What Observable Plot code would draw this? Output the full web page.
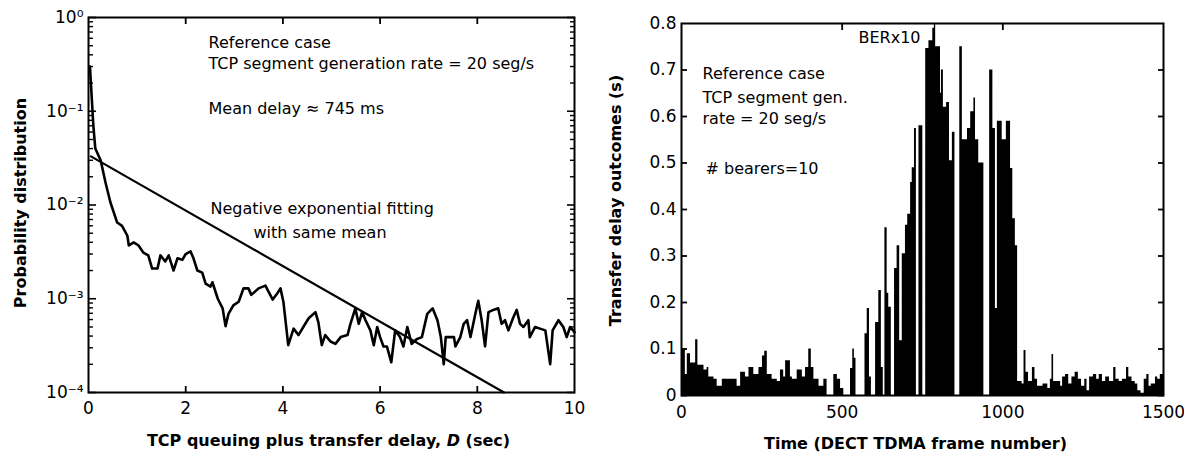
<!DOCTYPE html>
<html><head><meta charset="utf-8">
<script src="https://cdn.jsdelivr.net/npm/d3@7"></script>
<script src="https://cdn.jsdelivr.net/npm/@observablehq/plot@0.6"></script>
<style>
body{margin:0;background:#fff;}
#wrap{display:flex;width:1184px;height:455px;background:#fff;}
#wrap svg{display:block;}
</style></head><body><div id="wrap"></div>
<script>
// ---------- Left panel data: probability distribution of delay D ----------
const delayD = [0.03,0.06,0.10,0.14,0.25,0.35,0.45,0.59,0.69,0.80,0.83,0.93,1.03,1.13,1.23,1.31,1.42,1.48,1.58,1.65,1.75,1.83,1.93,2.00,2.10,2.16,2.24,2.34,2.41,2.51,2.55,2.66,2.76,2.82,2.88,2.98,3.09,3.19,3.29,3.35,3.50,3.64,3.79,3.89,3.95,4.01,4.11,4.22,4.32,4.42,4.53,4.67,4.73,4.80,4.87,4.98,5.08,5.19,5.33,5.39,5.49,5.56,5.63,5.70,5.80,5.87,5.94,6.00,6.07,6.14,6.23,6.31,6.41,6.48,6.56,6.65,6.75,6.86,6.97,7.08,7.18,7.25,7.31,7.35,7.52,7.55,7.65,7.72,7.79,7.86,7.96,8.02,8.09,8.16,8.23,8.33,8.43,8.50,8.57,8.64,8.74,8.81,8.88,8.95,9.05,9.08,9.19,9.29,9.40,9.50,9.55,9.67,9.77,9.84,9.91,10.0];
const probP = [0.30,0.16,0.07,0.040,0.030,0.0174,0.0107,0.0065,0.0060,0.0047,0.0037,0.0040,0.0037,0.0031,0.0029,0.0021,0.0021,0.0029,0.0025,0.0029,0.0020,0.0027,0.0026,0.0030,0.0032,0.0027,0.0020,0.0019,0.00145,0.00135,0.0015,0.0010,0.00079,0.00051,0.00069,0.00085,0.00093,0.00129,0.00129,0.0011,0.00129,0.00138,0.00098,0.00115,0.00129,0.00093,0.00032,0.00048,0.00041,0.0005,0.00062,0.00072,0.00056,0.00032,0.00041,0.00035,0.00033,0.00039,0.00041,0.00054,0.00079,0.00054,0.00072,0.00059,0.00046,0.00032,0.0005,0.00039,0.00031,0.00031,0.00021,0.00046,0.00039,0.00031,0.0005,0.00033,0.00037,0.00039,0.00069,0.00079,0.00059,0.00039,0.0002,0.00039,0.00039,0.00031,0.00039,0.00054,0.00059,0.00039,0.00069,0.00095,0.00059,0.00031,0.00072,0.00076,0.00079,0.00054,0.00059,0.00046,0.00063,0.00076,0.00054,0.0005,0.00059,0.00039,0.0005,0.00048,0.00046,0.0002,0.00046,0.00059,0.0005,0.00039,0.0005,0.00044];
// negative exponential fit (straight on log scale)
const fitD = [0.05, 8.55];
const fitP = [0.033, 0.0001];
const leftXTicks = [0, 2, 4, 6, 8, 10];
const leftXInnerTicks = [2, 4, 6, 8];
const leftYTicks = [1, 0.1, 0.01, 0.001, 0.0001];
const leftYTickLabels = ["10\u2070", "10\u207B\u00B9", "10\u207B\u00B2", "10\u207B\u00B3", "10\u207B\u2074"];
const leftXLabel = "TCP queuing plus transfer delay, D (sec)";
const leftYLabel = "Probability distribution";

// ---------- Right panel data: transfer delay per DECT frame ----------
const frameStart = [0,12,18,28,44,51,70,80,85,101,111,127,173,184,199,210,225,241,252,259,267,282,298,308,318,324,339,345,360,376,386,396,404,412,428,443,453,474,485,495,505,526,533,538,543,571,578,585,591,604,614,622,628,633,640,645,653,663,671,679,687,697,704,713,718,725,731,739,751,760,770,782,787,791,806,809,815,825,834,843,851,866,874,890,900,910,915,925,941,959,969,977,983,998,1011,1024,1031,1039,1046,1060,1066,1072,1080,1092,1100,1108,1125,1140,1148,1153,1158,1180,1186,1195,1205,1215,1225,1235,1245,1255,1262,1270,1282,1292,1300,1310,1320,1332,1345,1352,1362,1372,1385,1392,1402,1412,1420,1430,1440,1448,1455,1462,1475,1482,1490];
const delayValue = [0.10,0.045,0.09,0.07,0.12,0.065,0.055,0.06,0.04,0.035,0.02,0.035,0.02,0.05,0.04,0.06,0.045,0.06,0.085,0.095,0.045,0.035,0.03,0.055,0.04,0.075,0.04,0.035,0.055,0.04,0.06,0.10,0.06,0.035,0.02,0.035,0,0.045,0.035,0.015,0,0.058,0.10,0.08,0,0.133,0.187,0.04,0,0.157,0.226,0.06,0,0.361,0.22,0.19,0,0.273,0.322,0.118,0.305,0.366,0.39,0.458,0.49,0.574,0,0.58,0,0.746,0.763,0.79,0.80,0.75,0.65,0.70,0.62,0.63,0.505,0.566,0,0.75,0.55,0.574,0.61,0.64,0.55,0.50,0,0.70,0.574,0.187,0.59,0.55,0.59,0.488,0.38,0.322,0.03,0.025,0.097,0.05,0.03,0.06,0.035,0.02,0.025,0.015,0.035,0.088,0.03,0.02,0.04,0.045,0.025,0.04,0.05,0.035,0.02,0.035,0.01,0.04,0.045,0.035,0.045,0.03,0.04,0.03,0.06,0.035,0.03,0.035,0.06,0.04,0.03,0.025,0.01,0.005,0.035,0.045,0.02,0.025,0.04,0.035,0.045];
const lastFrame = 1500;
const rightXTicks = [0, 500, 1000, 1500];
const rightXInnerTicks = [500, 1000];
const rightYTicks = [0, 0.1, 0.2, 0.3, 0.4, 0.5, 0.6, 0.7];
const rightYLabelTicks = [0, 0.1, 0.2, 0.3, 0.4, 0.5, 0.6, 0.7, 0.8];
const rightXLabel = "Time (DECT TDMA frame number)";
const rightYLabel = "Transfer delay outcomes (s)";

// ---------- tables built from the arrays ----------
const empirical = delayD.map((d, i) => ({d, p: probP[i]}));
const fit = fitD.map((d, i) => ({d, p: fitP[i]}));
const steps = frameStart.map((f, i) => ({f, v: delayValue[i]}));
steps.push({f: lastFrame, v: delayValue[delayValue.length - 1]});
const yLabelMap = new Map(leftYTicks.map((t, i) => [t, leftYTickLabels[i]]));
const minorLog = [];
for (const dec of [0.0001, 0.001, 0.01, 0.1]) for (const m of [2,3,4,5,6,7,8,9]) minorLog.push(+(m * dec).toPrecision(3));

const FONT = "'DejaVu Sans', 'Liberation Sans', sans-serif";
const W = 592, H = 455;

function note(str, px, py, m, opts = {}) {
  return Plot.text([str], {frameAnchor: "top-left", dx: px - m.left, dy: py - m.top,
    textAnchor: "start", lineAnchor: "middle", fontSize: 16, ...opts});
}

// ---------- Left chart ----------
const mL = {left: 88, right: 18, top: 17, bottom: 63};
const left = Plot.plot({
  width: W, height: H,
  marginLeft: mL.left, marginRight: mL.right, marginTop: mL.top, marginBottom: mL.bottom,
  style: {fontFamily: FONT, fontSize: "17px", color: "black", background: "white", overflow: "visible"},
  x: {domain: [0, 10], label: null},
  y: {type: "log", domain: [1e-4, 1], label: null},
  marks: [
    Plot.line(fit, {x: "d", y: "p", stroke: "black", strokeWidth: 2.2}),
    Plot.line(empirical, {x: "d", y: "p", stroke: "black", strokeWidth: 2.6, strokeLinejoin: "round"}),
    Plot.frame({stroke: "black", strokeWidth: 2}),
    Plot.axisY(leftYTicks, {anchor: "left", tickSize: 0, tickPadding: 5, tickFormat: d => yLabelMap.get(d), label: null}),
    Plot.axisY(leftYTicks, {anchor: "left", tickSize: -8, fill: "none", strokeWidth: 1.6, label: null}),
    Plot.axisY(leftYTicks, {anchor: "right", tickSize: -8, fill: "none", strokeWidth: 1.6, label: null}),
    Plot.axisY(minorLog, {anchor: "left", tickSize: -5, fill: "none", strokeWidth: 1.4, label: null}),
    Plot.axisY(minorLog, {anchor: "right", tickSize: -5, fill: "none", strokeWidth: 1.4, label: null}),
    Plot.axisX(leftXTicks, {anchor: "bottom", tickSize: 0, tickPadding: 9, tickFormat: d => String(d), label: null}),
    Plot.axisX(leftXInnerTicks, {anchor: "bottom", tickSize: -6, fill: "none", strokeWidth: 1.8, label: null}),
    Plot.axisX(leftXInnerTicks, {anchor: "top", tickSize: -6, fill: "none", strokeWidth: 1.8, label: null}),
    Plot.text([leftXLabel], {frameAnchor: "bottom", dx: -3, dy: 48, fontSize: 16, fontWeight: "bold", textAnchor: "middle", lineAnchor: "middle"}),
    Plot.text([leftYLabel], {frameAnchor: "left", dx: -68, dy: -2, rotate: -90, fontSize: 16, fontWeight: "bold", textAnchor: "middle", lineAnchor: "middle"}),
    note("Reference case", 208, 42, mL),
    note("TCP segment generation rate = 20 seg/s", 208, 63, mL),
    note("Mean delay \u2248 745 ms", 208, 108, mL),
    note("Negative exponential fitting", 210, 208, mL),
    note("with same mean", 253, 232, mL)
  ]
});

// ---------- Right chart ----------
const mR = {left: 89, right: 21, top: 23, bottom: 60};
const right = Plot.plot({
  width: W, height: H,
  marginLeft: mR.left, marginRight: mR.right, marginTop: mR.top, marginBottom: mR.bottom,
  style: {fontFamily: FONT, fontSize: "17px", color: "black", background: "white", overflow: "visible"},
  x: {domain: [0, 1500], label: null},
  y: {domain: [0, 0.8], label: null},
  marks: [
    Plot.areaY(steps, {x: "f", y: "v", curve: "step-after", fill: "black"}),
    Plot.frame({stroke: "black", strokeWidth: 2}),
    Plot.axisY(rightYLabelTicks, {anchor: "left", tickSize: 0, tickPadding: 5, tickFormat: d => String(d), label: null}),
    Plot.axisY(rightYTicks, {anchor: "left", tickSize: -6, fill: "none", strokeWidth: 1.8, label: null}),
    Plot.axisY(rightYTicks, {anchor: "right", tickSize: -6, fill: "none", strokeWidth: 1.8, label: null}),
    Plot.axisX(rightXTicks, {anchor: "bottom", tickSize: 0, tickPadding: 10, tickFormat: d => String(d), label: null}),
    Plot.axisX(rightXInnerTicks, {anchor: "bottom", tickSize: -6, fill: "none", strokeWidth: 1.8, label: null}),
    Plot.axisX(rightXInnerTicks, {anchor: "top", tickSize: -6, fill: "none", strokeWidth: 1.8, label: null}),
    Plot.text([rightXLabel], {frameAnchor: "bottom", dx: -7, dy: 48, fontSize: 16, fontWeight: "bold", textAnchor: "middle", lineAnchor: "middle"}),
    Plot.text([rightYLabel], {frameAnchor: "left", dx: -66, dy: -9, rotate: -90, fontSize: 16, fontWeight: "bold", textAnchor: "middle", lineAnchor: "middle"}),
    note("BERx10", 266, 37, mR),
    note("Reference case", 110, 73, mR),
    note("TCP segment gen.", 110, 97, mR),
    note("rate = 20 seg/s", 110, 118, mR),
    note("# bearers=10", 113, 168, mR)
  ]
});

// italic D in the left x-axis label
left.querySelectorAll("text").forEach(t => {
  if (t.textContent === leftXLabel) {
    const ns = "http://www.w3.org/2000/svg";
    t.textContent = "";
    const parts = [["TCP queuing plus transfer delay, ", null], ["D", "italic"], [" (sec)", null]];
    for (const [s, st] of parts) {
      const ts = document.createElementNS(ns, "tspan");
      ts.textContent = s;
      if (st) ts.setAttribute("font-style", st);
      t.appendChild(ts);
    }
  }
});

const wrap = document.getElementById("wrap");
wrap.appendChild(left);
wrap.appendChild(right);
</script>
</body></html>
